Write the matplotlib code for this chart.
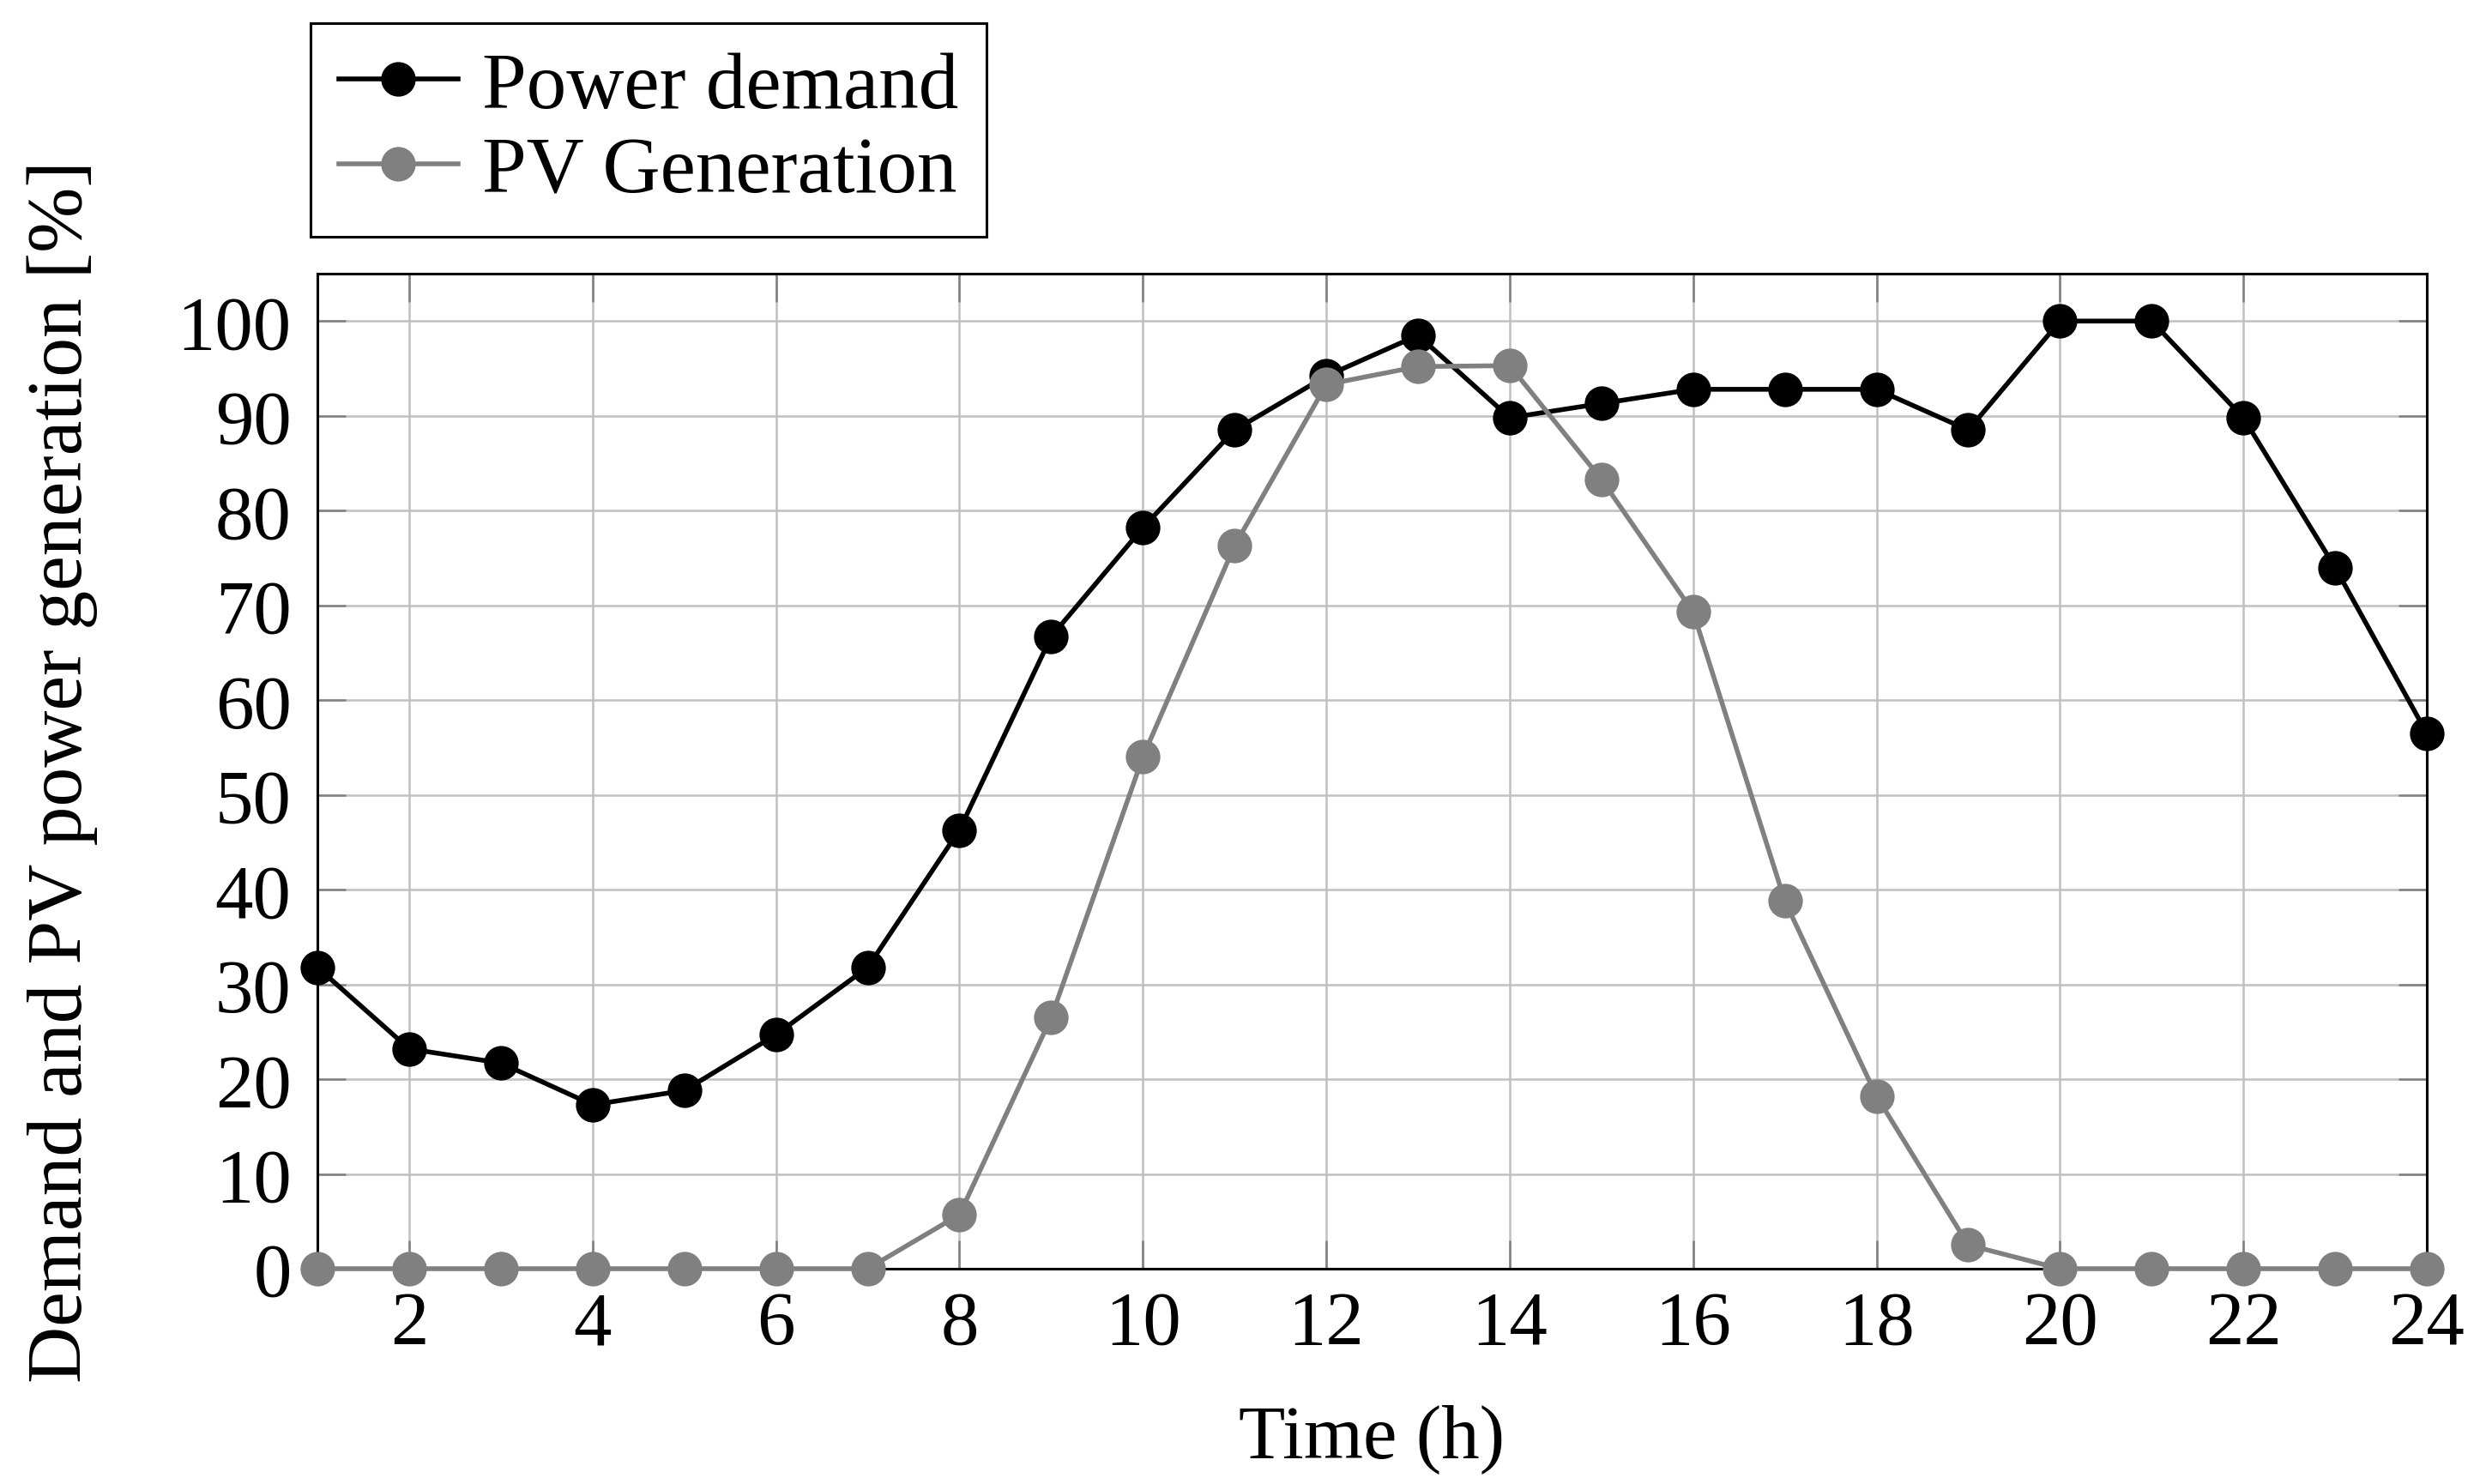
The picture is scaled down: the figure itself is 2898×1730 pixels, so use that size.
import matplotlib
matplotlib.use("Agg")
import matplotlib.pyplot as plt

hours = list(range(1, 25))
power_demand = [31.8, 23.2, 21.7, 17.3, 18.8, 24.7, 31.8, 46.3, 66.7, 78.2, 88.5, 94.2,
                98.5, 89.8, 91.3, 92.8, 92.8, 92.8, 88.5, 100.0, 100.0, 89.8, 74.0, 56.5]
pv_generation = [0, 0, 0, 0, 0, 0, 0, 5.7, 26.5, 54.0, 76.3, 93.3,
                 95.2, 95.3, 83.3, 69.3, 38.8, 18.2, 2.5, 0, 0, 0, 0, 0]
x_ticks = list(range(2, 25, 2))
y_ticks = list(range(0, 101, 10))

fs = 32
plt.rcParams['font.family'] = ['Liberation Serif', 'DejaVu Serif']
plt.rcParams['font.size'] = fs

fig = plt.figure(figsize=(14.49, 8.655), dpi=200)
ax = fig.add_axes([0.1277, 0.145, 0.9762 - 0.1277, 0.8151 - 0.145])

ax.plot(hours, power_demand, color='black', lw=2.0, marker='o', ms=13.5,
        label='Power demand', clip_on=False, zorder=3)
ax.plot(hours, pv_generation, color='#808080', lw=2.0, marker='o', ms=13.5,
        label='PV Generation', clip_on=False, zorder=4)

ax.set_xlim(1, 24)
ax.set_ylim(0, 105)
ax.set_xticks(x_ticks)
ax.set_yticks(y_ticks)
ax.grid(True, color='#c0c0c0', lw=0.9)
ax.set_axisbelow(True)
ax.tick_params(direction='in', length=12, width=0.9, color='#808080',
               top=True, right=True, labelsize=fs)
ax.tick_params(axis='y', pad=11)
ax.tick_params(axis='x', pad=9)
for s in ax.spines.values():
    s.set_linewidth(1.1)

ax.set_xlabel('Time (h)', fontsize=fs)
ax.set_ylabel('Demand and PV power generation [%]', fontsize=33)
ax.xaxis.set_label_coords(0.5, -0.135)
ax.yaxis.set_label_coords(-0.104, 0.5)

leg = fig.legend(loc='upper left', bbox_to_anchor=(0.1249, 0.9838), fontsize=33.5,
                 frameon=True, fancybox=False, edgecolor='black', framealpha=1,
                 borderaxespad=0, handlelength=1.5, handletextpad=0.3,
                 borderpad=0.35, labelspacing=0.15)
leg.get_frame().set_linewidth(1.1)

fig.savefig('out.png', dpi=200)
